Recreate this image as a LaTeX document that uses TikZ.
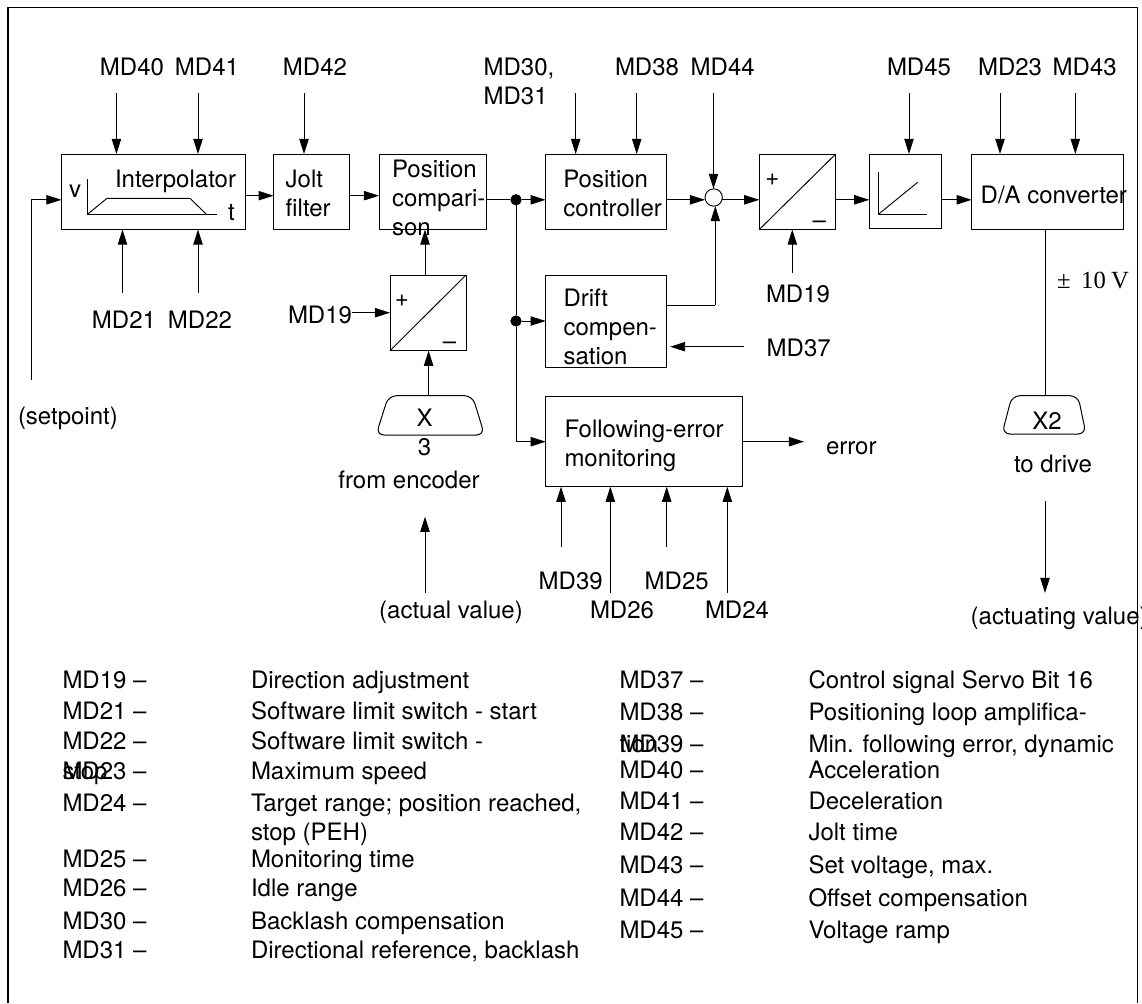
\documentclass[tikz,border=0pt]{standalone}
\usepackage{fontspec}
\setmainfont{TeX Gyre Heros}
\newfontfamily\serifnum{Liberation Serif}
\usetikzlibrary{arrows.meta}
\tikzset{
  x=0.75pt,y=-0.75pt,
  every node/.style={inner sep=0pt,outer sep=0pt,font=\fontsize{18}{21.75}\selectfont},
  line/.style={line width=0.7pt,black},
  arr/.style={line,-{Triangle[length=11.3pt,width=7pt]}},
  block/.style 2 args={draw,line width=0.75pt,rectangle,minimum width=#1*0.75pt,minimum height=#2*0.75pt},
  connshape/.style={draw,line width=0.75pt,rounded corners=6pt},
  dot/.style={circle,fill=black,minimum size=8.5pt},
  sumnode/.style={circle,draw,fill=white,line width=0.7pt,minimum size=13pt},
  txt/.style={anchor=mid west,yshift=-3.4pt},
  ctr/.style={anchor=mid,yshift=-3.4pt},
  multi/.style={anchor=west,align=left},
}
\begin{document}
\begin{tikzpicture}
\useasboundingbox (0,0) rectangle (1142,1003);
\fill[white] (0,0) rectangle (1142,1003);
% outer frame
\draw[line width=0.8pt] (8,1003) -- (8,7.5) -- (1137.7,7.5) -- (1137.7,1003);

% blocks
\node[block={183.5}{75.5}] (interp) at (153.25,191.75) {};
\node[block={75.4}{75.5}] (jolt) at (311.3,191.75) {};
\node[block={107}{75.5}] (pos) at (432.5,191.75) {};
\node[block={76}{75.7}] (convA) at (428,312.85) {};
\node[block={121.1}{75.5}] (ctrl) at (606.25,191.75) {};
\node[block={76.4}{75.5}] (convB) at (797.5,191.75) {};
\node[block={72.4}{74.5}] (ramp) at (905.5,191.25) {};
\node[block={151.6}{75.5}] (da) at (1047.5,191.75) {};
\node[block={121.1}{92.3}] (drift) at (606.25,321.15) {};
\node[block={196.5}{90.7}] (foll) at (644.05,441.35) {};
\node[sumnode] (sum) at (713.7,197.5) {};
\node[dot] (jA) at (516,199.8) {};
\node[dot] (jB) at (516,321) {};
% connector outlines
\path[connshape] (430,395.7) -- (472.5,395.7) -- (484.5,435) -- (376,435) -- (388.5,395.7) -- cycle;
\path[connshape] (1045,395.7) -- (1078,395.7) -- (1086,434) -- (1002,434) -- (1012,395.7) -- cycle;

% block texts
\node[txt] (tInterp) at (115,179) {Interpolator};
\node[txt] (tv) at (69,189) {v};
\node[txt] (tt) at (228,212) {t};
\node[multi] (tJolt) at (285.7,193.5) {Jolt\\filter};
\node[multi] (tPos) at (392,198) {Position\\compari-\\son};
\node[multi] (tCtrl) at (563.3,193.5) {Position\\controller};
\node[multi] (tDrift) at (563.5,327) {Drift\\compen-\\sation};
\node[multi] (tFoll) at (564.5,445.5) {Following-error\\monitoring};
\node[txt] (tDA) at (980.7,195) {D/A converter};
\node[anchor=center,align=center] (tX) at (424.5,432) {X\\3};
\node[ctr] (tX2) at (1047,421.7) {X2};

% interior drawings
\draw[line] (87.5,179.3) -- (87.5,214.3) -- (216.8,214.3);
\draw[line] (87.5,214.3) -- (107,198.3) -- (190,198.3) -- (206.4,214.3);
\draw[line] (convA.south west) -- (convA.north east);
\draw[line] (convB.south west) -- (convB.north east);
\draw[line] (878.7,172.3) -- (878.7,214) -- (926.7,214);
\draw[line] (878.7,214) -- (917.7,182.3);
\node[ctr] (pA) at (402,298) {+};
\node[ctr] (mA) at (449.6,341) {--};
\node[ctr] (pB) at (772.3,177.5) {+};
\node[ctr] (mB) at (819.3,220) {--};

% free ends and rows
\coordinate (rowA) at (0,195.7);
\coordinate (rowB) at (0,199.8);
\coordinate (rowC) at (0,441.7);
\coordinate (cSet) at (31.5,380);
\coordinate (c21) at (122.5,293);
\coordinate (c22) at (198,293);
\coordinate (c19a) at (352,312.7);
\coordinate (c19b) at (792.3,272.7);
\coordinate (c37) at (744,346.7);
\coordinate (cAct) at (425,592.7);
\coordinate (tAct) at (425,516.7);
\coordinate (c39) at (561,547.3);
\coordinate (c26) at (610.3,592.7);
\coordinate (c25) at (666.7,547.3);
\coordinate (c24) at (727.3,592.7);
\coordinate (cErr) at (804,441.7);
\coordinate (sDrive) at (1045,501);
\coordinate (eDrive) at (1045,593);
\coordinate (cDr) at (715.3,305);
\coordinate (cXup) at (428.6,396);
\coordinate (cPosIn) at (425,275);
\coordinate (cDA) at (1045.3,396);

% top inputs
\foreach \n/\xx/\tgt in {a/116.4/interp,b/198/interp,c/304/jolt,d/575.7/ctrl,e/636.7/ctrl,f/713.5/sum,g/909/ramp,h/1000/da,i/1075.3/da}{
  \coordinate (in\n) at (\xx,93);
  \draw[arr] (in\n) -- (in\n |- \tgt.north);
}
% bottom inputs
\draw[arr] (c21) -- (c21 |- interp.south);
\draw[arr] (c22) -- (c22 |- interp.south);
\draw[arr] (c19b) -- (c19b |- convB.south);
\draw[arr] (c19a) -- (c19a -| convA.west);
\draw[arr] (c37) -- ([xshift=2.5pt]c37 -| drift.east);
\draw[arr] (cSet) |- (interp.west |- rowB);
% chain
\draw[arr] (interp.east |- rowA) -- (jolt.west |- rowA);
\draw[arr] (jolt.east |- rowA) -- (pos.west |- rowA);
\draw[line] (pos.east |- rowB) -- (jA);
\draw[arr] (jA) -- (ctrl.west |- jA);
\draw[line] (jA) -- (jB);
\draw[arr] (jB) -- (drift.west |- jB);
\draw[arr] (jB) |- (foll.west |- rowC);
\draw[arr] (ctrl.east |- rowB) -- (sum.west |- rowB);
\draw[arr] (sum.east |- rowB) -- (convB.west |- rowB);
\draw[arr] (convB.east |- rowB) -- (ramp.west |- rowB);
\draw[arr] (ramp.east |- rowB) -- (da.west |- rowB);
\draw[line] (drift.east |- cDr) -- (cDr);
\draw[arr] (cDr) -- (cDr |- sum.south);
\draw[arr] (cPosIn) -- (cPosIn |- pos.south);
\draw[arr] (cXup) -- (cXup |- convA.south);
\draw[line] (cDA |- da.south) -- (cDA);
\draw[arr] (foll.east |- rowC) -- (cErr);
% lower arrows
\draw[arr] (cAct) -- (tAct);
\draw[arr] (c39) -- (c39 |- foll.south);
\draw[arr] (c26) -- (c26 |- foll.south);
\draw[arr] (c25) -- (c25 |- foll.south);
\draw[arr] (c24) -- (c24 |- foll.south);
\draw[arr] (sDrive) -- (eDrive);

% signal labels
\node[ctr] (l40) at (132,67.5) {MD40};
\node[ctr] (l41) at (207,67.5) {MD41};
\node[ctr] (l42) at (315,67.5) {MD42};
\node[txt] (l30) at (483.6,67.5) {MD30,};
\node[txt] (l31) at (483.6,96) {MD31};
\node[ctr] (l38) at (647,67.5) {MD38};
\node[ctr] (l44) at (722.7,67.5) {MD44};
\node[ctr] (l45) at (919,67.5) {MD45};
\node[ctr] (l23) at (1010,67.5) {MD23};
\node[ctr] (l43) at (1084.7,67.5) {MD43};
\node[ctr] (l21) at (124,320.7) {MD21};
\node[ctr] (l22) at (200,320.7) {MD22};
\node[ctr] (l19a) at (320,315) {MD19};
\node[ctr] (l19b) at (798,294.3) {MD19};
\node[ctr] (l37) at (798.7,348.3) {MD37};
\node[txt] (lSet) at (18,416) {(setpoint)};
\node[ctr] (lEnc) at (409,480) {from encoder};
\node[ctr] (lAct) at (451,610) {(actual value)};
\node[ctr] (l39) at (570.7,581.7) {MD39};
\node[ctr] (l26) at (622,610) {MD26};
\node[ctr] (l25) at (676.7,581.7) {MD25};
\node[ctr] (l24) at (737,610) {MD24};
\node[txt] (lErr) at (826,446.7) {error};
\node[ctr] (lDrv) at (1053,464) {to drive};
\node[txt] (lAcg) at (970.7,616) {(actuating value)};
\node[txt,font=\fontsize{18.5}{21.75}\selectfont\serifnum] (lVolt) at (1057,280) {±\hspace{8pt}10\hspace{4pt}V};

% legend, left column
\foreach \k/\yy/\d in {19/680.7/Direction adjustment,21/711.7/Software limit switch - start,22/741.7/Software limit switch -,23/771.7/Maximum speed,24/803.3/{Target range; position reached,},25/859/Monitoring time,26/888.3/Idle range,30/921/Backlash compensation,31/950/{Directional reference, backlash}}{
  \node[txt] (key\k) at (62.5,\yy) {MD\k{} --};
  \node[txt] (val\k) at (251,\yy) {\d};
}
\node[txt] (cont22) at (62.5,771.7) {stop};
\node[txt] (cont24) at (251,832.3) {stop (PEH)};
% legend, right column
\foreach \k/\yy/\d in {37/680/Control signal Servo Bit 16,38/712.7/Positioning loop amplifica-,39/744/{Min. following error, dynamic},40/770/Acceleration,41/801/Deceleration,42/832.3/Jolt time,43/865/{Set voltage, max.},44/898.3/Offset compensation,45/930.7/Voltage ramp}{
  \node[txt] (key\k) at (619.5,\yy) {MD\k{} --};
  \node[txt] (val\k) at (808.5,\yy) {\d};
}
\node[txt] (cont38) at (619.5,744) {tion};
\end{tikzpicture}
\end{document}
